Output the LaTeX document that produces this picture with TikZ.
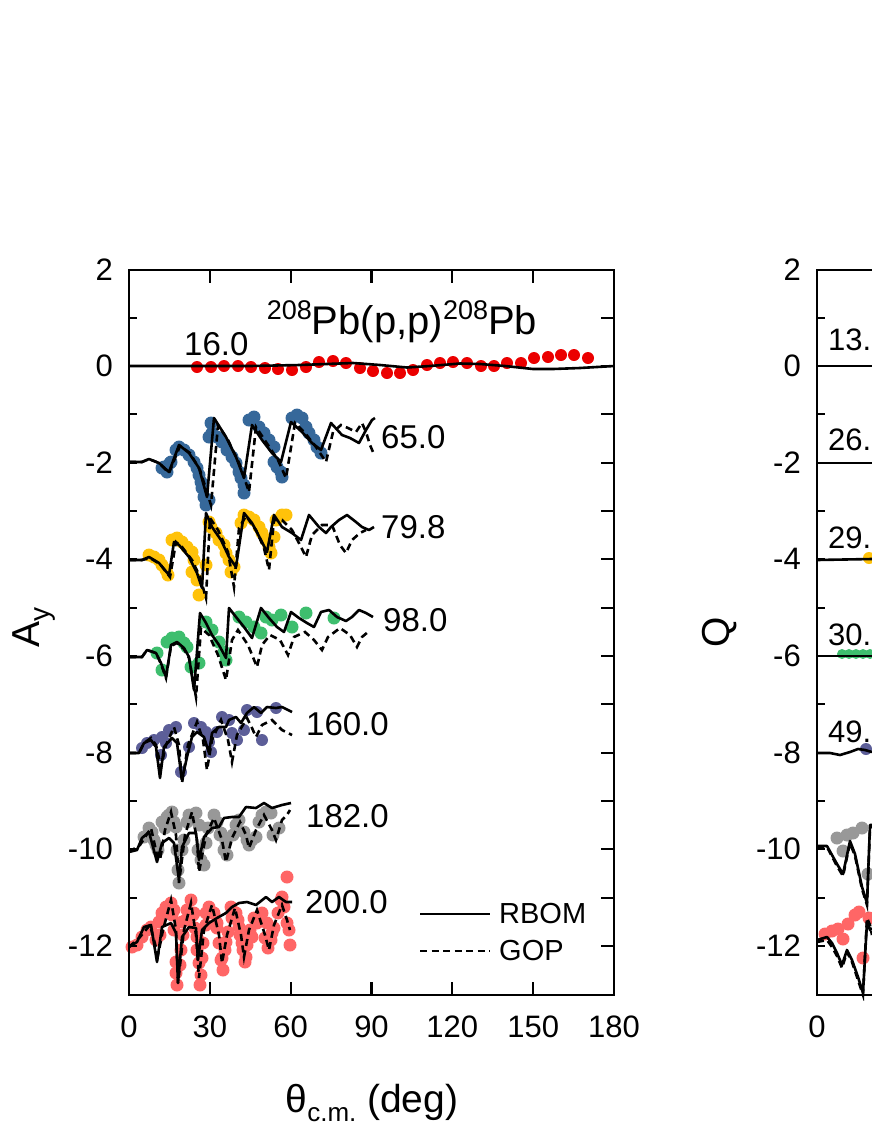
\documentclass[tikz,border=0pt]{standalone}
\usepackage{fontspec}
\setmainfont{Liberation Sans}
\usetikzlibrary{calc}

\definecolor{redA}{RGB}{235,0,0}
\definecolor{blueA}{RGB}{54,104,154}
\definecolor{yellowA}{RGB}{255,194,10}
\definecolor{greenA}{RGB}{62,190,110}
\definecolor{purpleA}{RGB}{92,94,152}
\definecolor{grayA}{RGB}{152,152,152}
\definecolor{salmonA}{RGB}{255,102,102}

\tikzset{
  rbom/.style={black,line width=2.6pt,line join=round},
  gop/.style={black,line width=2.6pt,dash pattern=on 7pt off 4.5pt},
  frame/.style={black,line width=2.6pt},
  tck/.style={black,line width=2.2pt},
  elbl/.style={inner sep=0pt,anchor=base west,font=\fontsize{33}{36}\selectfont},
  tlbl/.style={inner sep=0pt,font=\fontsize{31}{34}\selectfont},
}

\begin{document}
\begin{tikzpicture}[x=1pt,y=-1pt]
\useasboundingbox (0,0) rectangle (872,1128);

% data points
\foreach \x/\y in {197/367,211/367,224/366,238/366,251/367,265/368,278/369,292/370,306/367,319/362,333/361,346/363,360/368,373/371,387/373,400/373,413/370,427/365,440/363,453/362,467/363,481/366,494/366,507/363,521/363,534/358,548/357,561/355,574/355,588/358}
  \fill[redA] (\x,\y) circle (6pt);
\foreach \x/\y in {162/468,164/467,167/472,170/463,171/462,176/450,179/447,184/450,189/455,194/462,197/468,199/475,201/482,202/488,204/497,206/505,209/500,209/437,211/423,212/433,217/437,222/442,227/450,232/457,236/463,239/472,241/478,244/485,244/493,249/420,254/417,259/427,264/433,269/440,274/447,274/462,277/467,281/472,282/477,292/418,297/415,302/418,306/427,309/433,314/440,317/447,321/453}
  \fill[blueA] (\x,\y) circle (6.5pt);
\foreach \x/\y in {149/555,154/557,159/560,162/565,166/570,168/575,172/540,177/538,182/542,187/547,192/552,194/560,192/572,197/580,199/595,206/565,209/522,211/527,216/533,219/540,224/545,226/553,229/560,231/572,234/567,241/523,244/515,249/517,254/520,259/527,262/533,266/540,269/547,271/553,274/537,276/520,282/515,286/515}
  \fill[yellowA] (\x,\y) circle (6.5pt);
\foreach \x/\y in {157/653,162/670,167/642,172/638,179/637,184/643,187/647,191/667,199/663,206/622,212/630,219/642,224/652,226/660,239/617,246/622,254/627,261/633,266/617,272/620,281/615,292/627,306/613,334/618}
  \fill[greenA] (\x,\y) circle (6.5pt);
\foreach \x/\y in {142/748,147/743,154/740,162/737,166/743,161/755,169/730,176/727,181/772,189/747,194/723,201/727,206/732,209/742,211/752,217/732,222/717,229/720,232/733,237/740,244/730,247/710,257/712,262/740,276/708}
  \fill[purpleA] (\x,\y) circle (6pt);
\foreach \x/\y in {144/837,149/828,154/840,156/845,162/822,167/817,172/812,176/827,179/883,182/850,189/815,196/813,199/825,201/860,204/865,206/843,214/815,221/833,226/842,227/855,239/820,244/832,249/845,256/837,262/815,266/812,271/813,152/832,158/850,165/828,169/815,174/822,177/850,178/870,184/840,187/822,193/815,198/850,208/828,217/822,220/835,224/850,233/835,236/825,247/840,252/840,259/822,273/835,279/828}
  \fill[grayA] (\x,\y) circle (6.5pt);
\foreach \x/\y in {132/947,137/945,142/937,147/930,151/927,159/922,162/913,166/907,171/903,174/910,176/962,176/973,182/922,187/910,191/900,194/913,197/937,199/963,201/975,206/913,209/907,212/913,217/923,219/943,222/958,226/942,231/907,236/913,239/927,242/943,246/957,252/937,257/923,262/913,267/923,272/933,281/900,284/907,287/923,289/930,287/877,282/897,172/915,174/930,177/985,180/965,181/950,183/935,186/920,193/915,195/928,197/950,200/985,202/958,203/943,206/925,214/913,217/928,221/960,223/970,225/950,228/932,232/918,238/920,240/935,243/950,245/962,247/945,250/930,254/918,259/918,265/938,268/948,271/940,274/928,278/913,290/945,156/940,160/935}
  \fill[salmonA] (\x,\y) circle (6.5pt);

% GOP
\draw[gop] plot coordinates {(129,462) (142,462) (149,459) (159,463) (169,473) (180,446) (190,453) (200,470) (211,505) (218,425) (228,440) (240,465) (249,492) (256,427) (266,442) (278,460) (286,478) (295,423) (305,433) (316,447) (326,462) (333,432) (341,425) (348,428) (356,432) (362,423) (366,432) (370,445) (373,452)};
\draw[gop] plot coordinates {(129,560) (142,560) (150,558) (160,564) (170,577) (176,542) (182,547) (192,560) (200,577) (206,598) (210,518) (218,530) (228,552) (234,587) (239,528) (246,516) (256,530) (264,548) (269,570) (274,520) (282,520) (292,530) (300,545) (306,557) (312,535) (322,525) (332,525) (340,545) (346,553) (352,540) (360,533) (366,530)};
\draw[gop] plot coordinates {(129,657) (142,657) (147,650) (156,653) (161,664) (166,678) (171,646) (177,643) (184,649) (189,658) (196,697) (201,628) (209,635) (218,655) (226,680) (232,640) (238,630) (248,645) (257,667) (262,645) (270,635) (280,640) (288,655) (294,637) (305,632) (314,640) (322,650) (328,637) (340,628) (350,635) (357,647) (362,637) (368,632)};
\draw[gop] plot coordinates {(129,753) (139,753) (144,743) (151,738) (156,745) (161,767) (166,745) (174,727) (179,745) (182,783) (188,745) (197,722) (203,740) (207,770) (212,740) (221,720) (228,740) (232,762) (237,735) (247,718) (252,728) (256,737) (262,725) (272,720) (282,730) (292,735)};
\draw[gop] plot coordinates {(129,852) (140,845) (151,828) (157,855) (160,860) (165,830) (171,812) (176,835) (179,883) (185,835) (192,812) (197,840) (199,872) (206,835) (214,818) (222,840) (226,862) (232,838) (240,822) (246,835) (249,848) (256,830) (264,815) (272,830) (276,840) (282,820) (287,815) (290,810)};
\draw[gop] plot coordinates {(129,947) (140,937) (150,925) (158,955) (163,930) (171,900) (176,930) (178,983) (184,930) (191,903) (196,935) (199,978) (204,930) (212,905) (219,935) (222,963) (227,935) (235,908) (241,935) (244,957) (249,930) (257,910) (265,935) (269,950) (274,925) (282,905) (287,920) (290,930)};

% RBOM
\draw[rbom] plot coordinates {(129,366) (250,366) (300,365) (353,363) (380,365) (407,367.5) (430,366) (460,363.5) (480,364) (505,366) (533,369) (553,369) (580,368) (614,366)};
\draw[rbom] plot coordinates {(129,462) (142,462) (149,459) (159,463) (169,472) (179,445) (189,453) (199,468) (207,497) (214,418) (226,437) (236,457) (244,478) (252,425) (262,440) (272,453) (281,462) (291,422) (302,432) (312,443) (321,450) (331,423) (342,435) (350,438) (359,443) (366,430) (372,420) (375,418)};
\draw[rbom] plot coordinates {(129,560) (142,560) (149,557) (159,563) (169,575) (174,542) (179,545) (189,557) (197,573) (202,588) (206,513) (212,527) (221,540) (229,557) (236,567) (244,513) (252,523) (261,540) (267,552) (274,515) (282,527) (292,533) (301,540) (309,515) (319,527) (326,533) (331,527) (339,520) (347,515) (356,522) (362,527) (369,530) (374,527)};
\draw[rbom] plot coordinates {(129,657) (142,657) (147,650) (156,653) (161,663) (166,677) (171,645) (177,642) (184,648) (189,657) (194,690) (200,613) (206,623) (212,635) (219,645) (226,658) (229,608) (236,617) (244,627) (252,638) (261,608) (269,618) (277,627) (284,632) (291,612) (299,618) (307,623) (314,627) (321,612) (329,610) (337,617) (346,621) (352,617) (359,610) (366,613) (373,617)};
\draw[rbom] plot coordinates {(129,753) (139,753) (144,743) (151,740) (156,747) (160,778) (164,747) (172,738) (177,743) (182,780) (187,757) (192,737) (197,732) (204,737) (209,753) (212,733) (219,727) (226,727) (229,720) (236,717) (241,723) (247,713) (254,707) (261,713) (267,707) (276,708) (282,707) (292,712)};
\draw[rbom] plot coordinates {(129,852) (137,850) (142,838) (149,832) (157,862) (162,843) (169,838) (174,843) (179,880) (182,847) (189,833) (196,833) (199,860) (204,837) (212,828) (219,827) (224,818) (232,817) (239,817) (246,807) (256,808) (264,803) (272,808) (282,805) (291,803)};
\draw[rbom] plot coordinates {(129,947) (137,942) (144,927) (151,925) (157,962) (162,927) (171,923) (176,933) (178,983) (182,937) (189,927) (196,928) (198,960) (202,930) (209,923) (217,918) (226,913) (232,907) (239,903) (247,902) (256,905) (266,897) (272,902) (279,897) (286,902) (292,902)};

% left frame
\draw[frame] (129,270) rectangle (614,995);
\foreach \v in {-12,...,1}{
  \draw[tck] (129,{366-48.33*\v}) -- ++(8,0);
  \draw[tck] (614,{366-48.33*\v}) -- ++(-13,0);
}
\foreach \d in {30,60,...,150}{
  \draw[tck] ({129+2.6944*\d},270) -- ++(0,13);
  \draw[tck] ({129+2.6944*\d},995) -- ++(0,-13);
}
\foreach \v in {2,0,-2,-4,-6,-8,-10,-12}
  \node[tlbl,anchor=east] (ly\v) at (113,{366-48.33*\v}) {\v};
\foreach \d in {0,30,...,180}
  \node[tlbl] (lx\d) at ({129+2.6944*\d},1027) {\d};

\node[inner sep=0pt,rotate=90] (Ay) at (34,627) {\fontsize{39}{42}\selectfont A\raisebox{-10pt}{\fontsize{28}{30}\selectfont y}};
\node[inner sep=0pt,anchor=base] (thcm) at (372,1112) {\fontsize{39}{42}\selectfont θ\raisebox{-9pt}{\fontsize{26}{28}\selectfont c.m.} (deg)};
\node[inner sep=0pt,anchor=base] (title) at (402,334) {\fontsize{40}{43}\selectfont\raisebox{15pt}{\fontsize{27}{29}\selectfont 208}Pb(p,p)\raisebox{15pt}{\fontsize{27}{29}\selectfont 208}Pb};

\node[elbl] (e16) at (184,355) {16.0};
\node[elbl] (e65) at (381,448) {65.0};
\node[elbl] (e79) at (381,538) {79.8};
\node[elbl] (e98) at (383,631) {98.0};
\node[elbl] (e160) at (306,735) {160.0};
\node[elbl] (e182) at (306,827) {182.0};
\node[elbl] (e200) at (305,913) {200.0};

% legend
\node[inner sep=0pt,anchor=west,font=\fontsize{29}{32}\selectfont] (lgA) at (499,914) {RBOM};
\node[inner sep=0pt,anchor=west,font=\fontsize{29}{32}\selectfont] (lgB) at (499,951) {GOP};
\draw[rbom] ($(lgA.west)+(-79,0)$) -- ($(lgA.west)+(-9,0)$);
\draw[gop] ($(lgB.west)+(-79,0)$) -- ($(lgB.west)+(-9,0)$);

% right panel
\begin{scope}
\clip (817,260) rectangle (872,1000);
\fill[yellowA] (869,558) circle (6pt);
\foreach \x in {842,849,856,863,870}
  \fill[greenA] (\x,654) circle (5pt);
\fill[purpleA] (866,749) circle (6pt);
\foreach \x/\y in {837/838,843/851,847/835,853/833,862/828,868/874}
  \fill[grayA] (\x,\y) circle (6.5pt);
\foreach \x/\y in {825/934,832/931,838/929,843/939,848/924,855/915,859/912,869/918,863/958}
  \fill[salmonA] (\x,\y) circle (6.5pt);
\draw[rbom] (817,366) -- (872,366);
\draw[rbom] (817,463) -- (872,463);
\draw[rbom] (817,560) -- (872,559);
\draw[rbom] (817,656) -- (872,656);
\draw[rbom] plot coordinates {(817,753) (830,753) (840,755) (850,752) (858,749) (865,750) (872,752)};
\draw[gop] plot coordinates {(817,847) (827,847) (837,866) (843,876) (850,843) (855,856) (862,889) (867,905) (870,828) (872,826)};
\draw[rbom] plot coordinates {(817,846) (827,846) (837,864) (843,874) (850,841) (855,854) (862,887) (867,903) (870,825) (872,825)};
\draw[gop] plot coordinates {(817,942) (827,940) (832,947) (837,956) (842,968) (847,952) (852,962) (858,980) (863,995) (865,955) (867,918) (870,925) (872,935)};
\draw[rbom] plot coordinates {(817,940) (827,937) (832,943) (837,953) (842,965) (847,950) (852,960) (858,977) (863,993) (865,957) (867,922) (870,930) (872,928)};
\end{scope}
\draw[frame] (872,270) -- (817,270) -- (817,995) -- (872,995);
\foreach \v in {-12,...,1}
  \draw[tck] (817,{366-48.33*\v}) -- ++(8,0);
\foreach \v in {2,0,-2,-4,-6,-8,-10,-12}
  \node[tlbl,anchor=east] (ry\v) at (801,{366-48.33*\v}) {\v};
\node[tlbl] (rx0) at (817,1027) {0};
\node[inner sep=0pt,rotate=90,font=\fontsize{39}{42}\selectfont] (Q) at (720,632) {Q};
\node[elbl,font=\fontsize{31}{34}\selectfont] (r13) at (828,350) {13.};
\node[elbl,font=\fontsize{31}{34}\selectfont] (r26) at (828,450) {26.};
\node[elbl,font=\fontsize{31}{34}\selectfont] (r29) at (828,548) {29.};
\node[elbl,font=\fontsize{31}{34}\selectfont] (r30) at (828,645) {30.};
\node[elbl,font=\fontsize{31}{34}\selectfont] (r49) at (828,742) {49.};

\end{tikzpicture}
\end{document}
